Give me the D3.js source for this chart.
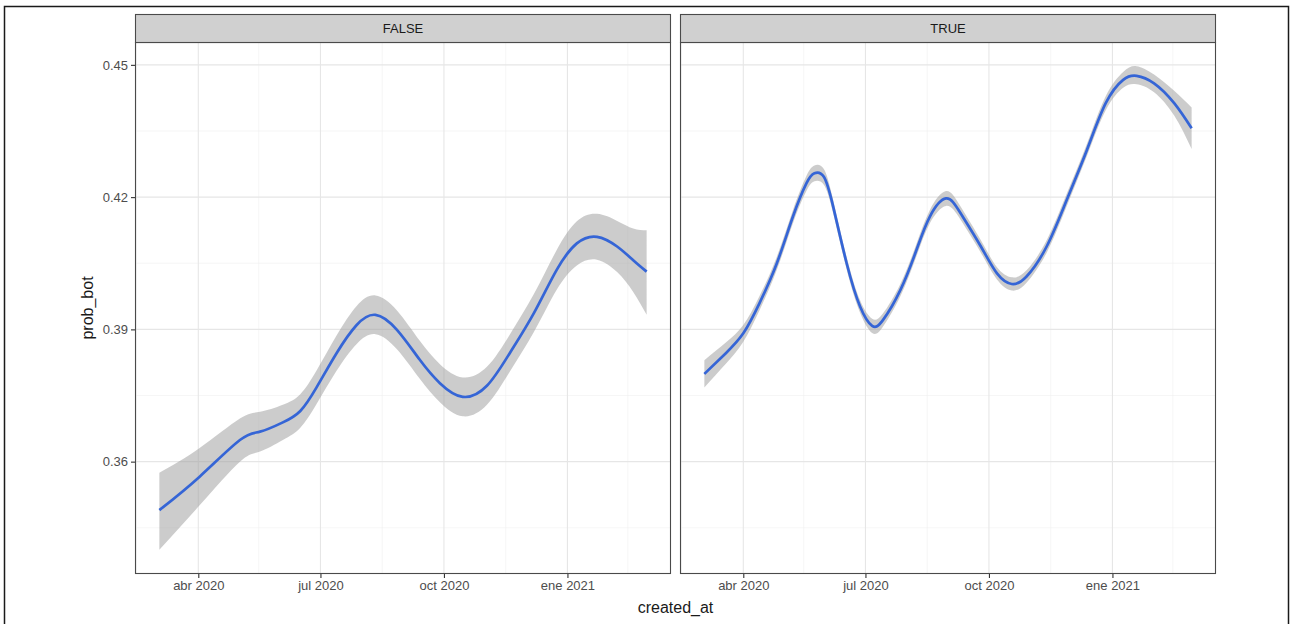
<!DOCTYPE html>
<html>
<head>
<meta charset="utf-8">
<script src="https://cdn.jsdelivr.net/npm/d3@7"></script>
<style>
  html, body { margin: 0; padding: 0; background: #fff; }
  svg { display: block; font-family: "Liberation Sans", Arial, Helvetica, sans-serif; }
</style>
</head>
<body>
<svg id="chart" width="1290" height="624"></svg>
<script>
// ---------- data ----------
const categories = ["FALSE", "TRUE"];

const falseDates = ["2020-03-03","2020-04-02","2020-05-02","2020-05-17","2020-06-03","2020-06-16","2020-06-28","2020-07-13","2020-07-28","2020-08-11","2020-08-27","2020-09-13","2020-09-28","2020-10-15","2020-11-02","2020-11-19","2020-12-07","2020-12-24","2021-01-08","2021-01-23","2021-02-07","2021-02-19","2021-03-01"];
const falseValues = [0.3490,0.3566,0.3649,0.3668,0.3689,0.3715,0.3768,0.3846,0.3910,0.3933,0.3899,0.3831,0.3778,0.3747,0.3772,0.3846,0.3937,0.4035,0.4095,0.4110,0.4088,0.4057,0.4031];
const falseLower  = [0.3400,0.3501,0.3600,0.3623,0.3649,0.3677,0.3730,0.3806,0.3867,0.3889,0.3855,0.3788,0.3735,0.3703,0.3729,0.3804,0.3894,0.3990,0.4045,0.4058,0.4030,0.3985,0.3933];
const falseUpper  = [0.3575,0.3631,0.3698,0.3713,0.3729,0.3753,0.3806,0.3886,0.3953,0.3977,0.3943,0.3874,0.3821,0.3791,0.3815,0.3888,0.3980,0.4080,0.4145,0.4162,0.4146,0.4129,0.4125];

const trueDates = ["2020-03-03","2020-03-19","2020-04-01","2020-04-13","2020-04-26","2020-05-08","2020-05-18","2020-05-24","2020-05-31","2020-06-07","2020-06-17","2020-06-27","2020-07-06","2020-07-14","2020-07-27","2020-08-08","2020-08-18","2020-08-30","2020-09-10","2020-09-25","2020-10-07","2020-10-18","2020-10-29","2020-11-13","2020-11-28","2020-12-13","2020-12-27","2021-01-09","2021-01-19","2021-02-01","2021-02-16","2021-03-01"];
const trueValues = [0.3799,0.3846,0.3891,0.3959,0.4050,0.4156,0.4231,0.4254,0.4246,0.4178,0.4050,0.3952,0.3908,0.3921,0.3989,0.4080,0.4156,0.4197,0.4163,0.4088,0.4027,0.4003,0.4020,0.4088,0.4194,0.4307,0.4413,0.4466,0.4475,0.4458,0.4413,0.4356];
const trueLower  = [0.3768,0.3822,0.3872,0.3943,0.4035,0.4141,0.4214,0.4236,0.4228,0.4163,0.4036,0.3938,0.3892,0.3906,0.3975,0.4066,0.4141,0.4180,0.4148,0.4074,0.4013,0.3988,0.4006,0.4074,0.4180,0.4293,0.4397,0.4448,0.4456,0.4438,0.4385,0.4309];
const trueUpper  = [0.3830,0.3870,0.3910,0.3975,0.4065,0.4171,0.4248,0.4272,0.4264,0.4193,0.4064,0.3966,0.3924,0.3936,0.4003,0.4094,0.4171,0.4214,0.4178,0.4102,0.4041,0.4018,0.4034,0.4102,0.4208,0.4321,0.4429,0.4484,0.4497,0.4478,0.4441,0.4403];

const yTicks = [0.36, 0.39, 0.42, 0.45];
const yTickLabels = ["0.36", "0.39", "0.42", "0.45"];
const yMinorTicks = [0.345, 0.375, 0.405, 0.435];
const xTickDates = ["2020-04-01", "2020-07-01", "2020-10-01", "2021-01-01"];
const xTickLabels = ["abr 2020", "jul 2020", "oct 2020", "ene 2021"];
const xMinorDates = ["2020-02-15", "2020-05-16", "2020-08-16", "2020-11-16", "2021-02-15"];

const xTitle = "created_at";
const yTitle = "prob_bot";

// ---------- build ----------
const parse = d3.utcParse("%Y-%m-%d");
const seriesList = [
  { name: categories[0], dates: falseDates, v: falseValues, lo: falseLower, hi: falseUpper },
  { name: categories[1], dates: trueDates, v: trueValues, lo: trueLower, hi: trueUpper }
].map(s => ({
  name: s.name,
  pts: s.dates.map((d, i) => ({ t: parse(d), v: s.v[i], lo: s.lo[i], hi: s.hi[i] }))
}));

const svg = d3.select("#chart");

// outer frame
svg.append("rect").attr("x", 4.5).attr("y", 6.5).attr("width", 1284).attr("height", 640)
  .attr("fill", "none").attr("stroke", "#1a1a1a").attr("stroke-width", 1.5);

const panelTop = 42, panelBottom = 574, stripTop = 14;
const panels = [{ x0: 135, x1: 671 }, { x0: 680, x1: 1216 }];

// shared y scale (ggplot-style 5% expansion)
const allLo = d3.min(seriesList, s => d3.min(s.pts, p => p.lo));
const allHi = d3.max(seriesList, s => d3.max(s.pts, p => p.hi));
const yPad = (allHi - allLo) * 0.05;
const y = d3.scaleLinear().domain([allLo - yPad, allHi + yPad]).range([panelBottom, panelTop]);

// shared x domain
const tMin = d3.min(seriesList, s => d3.min(s.pts, p => p.t));
const tMax = d3.max(seriesList, s => d3.max(s.pts, p => p.t));
const tPad = (tMax - tMin) * 0.05;
const xDomain = [new Date(+tMin - tPad), new Date(+tMax + tPad)];

const tickColor = "#333333";
const labelColor = "#4d4d4d";

seriesList.forEach((s, i) => {
  const P = panels[i];
  const x = d3.scaleUtc().domain(xDomain).range([P.x0, P.x1]);
  const g = svg.append("g");

  g.append("rect").attr("x", P.x0).attr("y", panelTop).attr("width", P.x1 - P.x0)
    .attr("height", panelBottom - panelTop).attr("fill", "#fff");

  // minor grid
  yMinorTicks.forEach(t => {
    g.append("line").attr("x1", P.x0).attr("x2", P.x1).attr("y1", y(t)).attr("y2", y(t))
      .attr("stroke", "#f0f0f0").attr("stroke-width", 0.6);
  });
  xMinorDates.map(parse).filter(d => x(d) > P.x0 && x(d) < P.x1).forEach(d => {
    g.append("line").attr("x1", x(d)).attr("x2", x(d)).attr("y1", panelTop).attr("y2", panelBottom)
      .attr("stroke", "#f0f0f0").attr("stroke-width", 0.6);
  });
  // major grid
  yTicks.forEach(t => {
    g.append("line").attr("x1", P.x0).attr("x2", P.x1).attr("y1", y(t)).attr("y2", y(t))
      .attr("stroke", "#e6e6e6").attr("stroke-width", 1.1);
  });
  xTickDates.map(parse).forEach(d => {
    g.append("line").attr("x1", x(d)).attr("x2", x(d)).attr("y1", panelTop).attr("y2", panelBottom)
      .attr("stroke", "#e6e6e6").attr("stroke-width", 1.1);
  });

  // ribbon
  const area = d3.area().x(p => x(p.t)).y0(p => y(p.lo)).y1(p => y(p.hi)).curve(d3.curveNatural);
  g.append("path").datum(s.pts).attr("d", area).attr("fill", "#999999").attr("fill-opacity", 0.5);

  // smooth line
  const line = d3.line().x(p => x(p.t)).y(p => y(p.v)).curve(d3.curveNatural);
  g.append("path").datum(s.pts).attr("d", line).attr("fill", "none")
    .attr("stroke", "#3565D6").attr("stroke-width", 2.7).attr("stroke-linejoin", "round");

  // panel border
  g.append("rect").attr("x", P.x0 + 0.5).attr("y", panelTop + 0.5).attr("width", P.x1 - P.x0 - 1)
    .attr("height", panelBottom - panelTop - 1).attr("fill", "none").attr("stroke", "#4a4a4a").attr("stroke-width", 1.1);

  // strip
  g.append("rect").attr("x", P.x0 + 0.5).attr("y", stripTop + 0.5).attr("width", P.x1 - P.x0 - 1)
    .attr("height", panelTop - stripTop).attr("fill", "#d0d0d0").attr("stroke", "#4a4a4a").attr("stroke-width", 1.1);
  g.append("text").attr("x", (P.x0 + P.x1) / 2).attr("y", panelTop - 9.5).attr("text-anchor", "middle")
    .attr("font-size", 13).attr("fill", "#1a1a1a").text(s.name);

  // x axis
  const xAxis = d3.axisBottom(x).tickValues(xTickDates.map(parse))
    .tickFormat((d, k) => xTickLabels[k]).tickSize(4).tickPadding(3);
  const ax = g.append("g").attr("transform", `translate(0,${panelBottom})`).call(xAxis);
  ax.select(".domain").remove();
  ax.selectAll(".tick line").attr("stroke", tickColor).attr("stroke-width", 1.1);
  ax.selectAll(".tick text").attr("fill", labelColor).attr("font-size", 13)
    .attr("font-family", "'Liberation Sans', Arial, sans-serif");
});

// y axis (left panel only)
const yAxis = d3.axisLeft(y).tickValues(yTicks).tickFormat((d, k) => yTickLabels[k]).tickSize(4).tickPadding(3);
const ay = svg.append("g").attr("transform", `translate(${panels[0].x0},0)`).call(yAxis);
ay.select(".domain").remove();
ay.selectAll(".tick line").attr("stroke", tickColor).attr("stroke-width", 1.1);
ay.selectAll(".tick text").attr("fill", labelColor).attr("font-size", 13)
  .attr("font-family", "'Liberation Sans', Arial, sans-serif");

// titles
svg.append("text").attr("x", (panels[0].x0 + panels[1].x1) / 2).attr("y", 613)
  .attr("text-anchor", "middle").attr("font-size", 16).attr("fill", "#1a1a1a").text(xTitle);
svg.append("text").attr("transform", `translate(93,${(panelTop + panelBottom) / 2}) rotate(-90)`)
  .attr("text-anchor", "middle").attr("font-size", 16).attr("fill", "#1a1a1a").text(yTitle);
</script>
</body>
</html>
